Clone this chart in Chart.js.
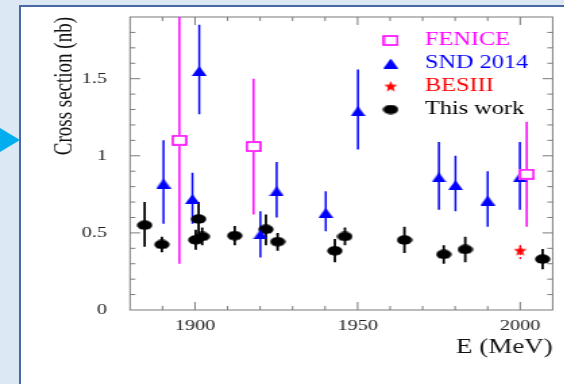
<!DOCTYPE html>
<html>
<head>
<meta charset="utf-8">
<script src="https://cdn.jsdelivr.net/npm/chart.js@4.4.1/dist/chart.umd.min.js"></script>
<style>
  html, body { margin: 0; padding: 0; }
  body { width: 564px; height: 384px; overflow: hidden; background: #dde8f5; position: relative; }
  #panel { position: absolute; left: 19px; top: 5px; width: 560px; height: 400px; background: #fff;
           border-left: 2px solid #4868a6; border-top: 2px solid #4868a6; }
  #arrow { position: absolute; left: 0; top: 128px; width: 0; height: 0;
           border-top: 12.5px solid transparent; border-bottom: 12.5px solid transparent; border-left: 20px solid #00aeef; }
  /* the reference is stretched sideways, so the chart is drawn narrow and widened */
  #wrap { position: absolute; left: 0; top: 0; width: 418px; height: 384px; transform: scaleX(1.35); transform-origin: 0 0; }
</style>
</head>
<body>
<div id="panel"></div>
<div id="arrow"></div>
<div id="wrap"><canvas id="chart"></canvas></div>
<script>
// FENICE
const feniceE = [1895.2, 1918.0, 2002.0];
const feniceSigma = [1.10, 1.06, 0.88];
const feniceLo = [0.30, 0.62, 0.54];
const feniceHi = [1.95, 1.50, 1.22];

// SND 2014
const sndE = [1890.3, 1899.2, 1901.3, 1920.1, 1925.1, 1940.2, 1950.1, 1975.0, 1980.1, 1990.0, 1999.9];
const sndSigma = [0.82, 0.72, 1.55, 0.49, 0.77, 0.63, 1.29, 0.86, 0.81, 0.71, 0.86];
const sndLo = [0.56, 0.56, 1.27, 0.34, 0.60, 0.51, 1.04, 0.65, 0.64, 0.54, 0.65];
const sndHi = [1.10, 0.89, 1.85, 0.64, 0.96, 0.77, 1.56, 1.09, 1.00, 0.90, 1.09];

// BESIII
const besE = [2000.0];
const besSigma = [0.385];
const besLo = [0.33];
const besHi = [0.43];

// This work
const thisE = [1884.5, 1889.8, 1900.2, 1901.1, 1902.2, 1912.2, 1921.8, 1925.4, 1943.0, 1946.1, 1964.4, 1976.5, 1983.1, 2006.9];
const thisSigma = [0.55, 0.425, 0.455, 0.59, 0.477, 0.482, 0.523, 0.443, 0.384, 0.477, 0.454, 0.361, 0.393, 0.33];
const thisLo = [0.41, 0.375, 0.39, 0.50, 0.42, 0.42, 0.42, 0.385, 0.31, 0.42, 0.37, 0.30, 0.31, 0.265];
const thisHi = [0.70, 0.475, 0.52, 0.70, 0.535, 0.545, 0.62, 0.50, 0.46, 0.535, 0.54, 0.42, 0.475, 0.395];

const xTickLabels = [1900, 1950, 2000];
const yTickLabels = [0, 0.5, 1, 1.5];
const legendNames = ['FENICE', 'SND 2014', 'BESIII', 'This work'];

function marker(w, h, draw) {
  const c = document.createElement('canvas');
  c.width = w; c.height = h;
  draw(c.getContext('2d'), w, h);
  return c;
}

const squareImg = marker(12, 11, (g, w, h) => {
  g.fillStyle = '#fff'; g.fillRect(0, 0, w, h);
  g.strokeStyle = '#ff00ff'; g.lineWidth = 1.6;
  g.strokeRect(1, 1, w - 2, h - 2);
});
const triangleImg = marker(11, 10, (g, w, h) => {
  g.fillStyle = '#0000ff';
  g.beginPath(); g.moveTo(w / 2, 0); g.lineTo(w, h); g.lineTo(0, h); g.closePath(); g.fill();
});
const starImg = marker(11, 12, (g, w, h) => {
  g.fillStyle = '#ff0000';
  g.beginPath();
  for (let i = 0; i < 10; i++) {
    const r = i % 2 ? 2.4 : 5.8;
    const a = -Math.PI / 2 + i * Math.PI / 5;
    g.lineTo(5.5 + r * Math.cos(a) * 0.9, 6.3 + r * Math.sin(a));
  }
  g.closePath(); g.fill();
});
const ellipseImg = marker(12, 10, (g, w, h) => {
  g.fillStyle = '#000';
  g.beginPath(); g.ellipse(6, 5, 5.7, 4.7, 0, 0, Math.PI * 2); g.fill();
});

const pts = (xs, ys) => xs.map((v, i) => ({ x: v, y: ys[i] }));

const serif = '"Liberation Serif", "Times New Roman", serif';

const markers = [squareImg, triangleImg, starImg, ellipseImg];
const textColors = ['#ff00ff', '#0000ff', '#ff0000', '#000'];

const rootStyle = {
  id: 'rootStyle',
  beforeDatasetsDraw(chart) {
    const { ctx, chartArea: a, scales: { x, y } } = chart;
    ctx.save();
    // frame
    ctx.strokeStyle = '#7a7a7a';
    ctx.lineWidth = 1;
    ctx.strokeRect(a.left, a.top, a.right - a.left, a.bottom - a.top);
    // inward ticks
    ctx.beginPath();
    for (let e = 1890; e <= 2000; e += 10) {
      const px = x.getPixelForValue(e);
      const len = e % 50 === 0 ? 8 : 4;
      ctx.moveTo(px, a.bottom); ctx.lineTo(px, a.bottom - len);
      ctx.moveTo(px, a.top); ctx.lineTo(px, a.top + len);
    }
    for (let k = 1; k <= 18; k++) {
      const py = y.getPixelForValue(k / 10);
      const len = k % 5 === 0 ? 7.5 : 4;
      ctx.moveTo(a.left, py); ctx.lineTo(a.left + len, py);
      ctx.moveTo(a.right, py); ctx.lineTo(a.right - len, py);
    }
    ctx.stroke();
    // error bars
    ctx.beginPath(); ctx.rect(a.left, a.top, a.right - a.left, a.bottom - a.top); ctx.clip();
    chart.data.datasets.slice().reverse().forEach(ds => {
      ctx.strokeStyle = ds.barColor;
      ctx.lineWidth = ds.barWidth;
      ctx.setLineDash(ds.barDash || []);
      ds.data.forEach((p, i) => {
        const px = x.getPixelForValue(p.x);
        ctx.beginPath();
        ctx.moveTo(px, y.getPixelForValue(ds.lo[i]));
        ctx.lineTo(px, y.getPixelForValue(ds.hi[i]));
        ctx.stroke();
      });
    });
    ctx.restore();
  },
  afterDraw(chart) {
    const { ctx, chartArea: a } = chart;
    ctx.save();
    ctx.font = '18px ' + serif;
    ctx.textBaseline = 'middle';
    legendNames.forEach((name, i) => {
      const cy = a.top + 23.5 + i * 23;
      const img = markers[i];
      ctx.drawImage(img, a.right - 120 - img.width / 2, cy - img.height / 2);
      ctx.fillStyle = textColors[i];
      ctx.fillText(name, a.right - 94.6, cy);
    });
    ctx.restore();
  }
};

new Chart(document.getElementById('chart'), {
  type: 'scatter',
  data: {
    datasets: [
      { label: 'FENICE', data: pts(feniceE, feniceSigma), lo: feniceLo, hi: feniceHi,
        pointStyle: squareImg, barColor: '#ff00ff', barWidth: 1.5 },
      { label: 'SND 2014', data: pts(sndE, sndSigma), lo: sndLo, hi: sndHi,
        pointStyle: triangleImg, barColor: '#0000ff', barWidth: 1.5 },
      { label: 'BESIII', data: pts(besE, besSigma), lo: besLo, hi: besHi,
        pointStyle: starImg, barColor: '#ff0000', barWidth: 1.2, barDash: [2, 2] },
      { label: 'This work', data: pts(thisE, thisSigma), lo: thisLo, hi: thisHi,
        pointStyle: ellipseImg, barColor: '#000', barWidth: 1.8 }
    ]
  },
  options: {
    responsive: true,
    maintainAspectRatio: false,
    animation: false,
    layout: { padding: { left: 0, right: 8.6, top: 17, bottom: 0 } },
    plugins: { legend: { display: false }, tooltip: { enabled: false } },
    elements: { point: { radius: 5 } },
    scales: {
      x: {
        type: 'linear', min: 1880, max: 2010,
        grid: { display: false, drawTicks: false, tickLength: 0 },
        border: { display: false },
        afterBuildTicks: s => { s.ticks = xTickLabels.map(v => ({ value: v })); },
        afterFit: s => { s.height = 74; s.paddingLeft = 0; s.paddingRight = 0; },
        ticks: { padding: 7, color: '#222', font: { family: serif, size: 15 }, callback: v => String(v), maxRotation: 0 },
        title: { display: true, text: 'E (MeV)', align: 'end', color: '#111',
                 font: { family: serif, size: 20 }, padding: { top: 0, bottom: 23.8 } }
      },
      y: {
        type: 'linear', min: 0, max: 1.9,
        grid: { display: false, drawTicks: false, tickLength: 0 },
        border: { display: false },
        afterBuildTicks: s => { s.ticks = yTickLabels.map(v => ({ value: v })); },
        afterFit: s => { s.width = 96.3; s.paddingTop = 0; s.paddingBottom = 0; },
        ticks: { padding: 17, color: '#222', font: { family: serif, size: 15 }, callback: v => String(v) },
        title: { display: true, text: 'Cross section (nb)', align: 'end', color: '#111',
                 font: { family: serif, size: 19 }, padding: { top: 36.7, bottom: 0 } }
      }
    }
  },
  plugins: [rootStyle]
});
</script>
</body>
</html>
